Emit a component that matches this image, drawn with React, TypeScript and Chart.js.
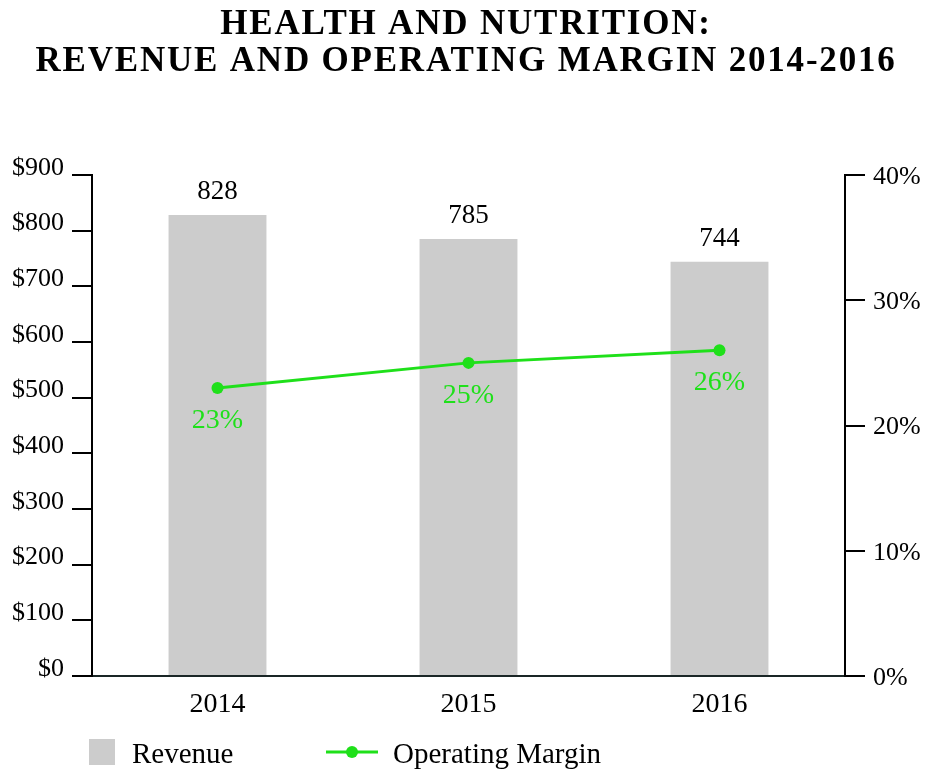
import React, { useEffect, useRef } from "react";
import { Chart, registerables } from "chart.js";

Chart.register(...registerables);

const titleLines = ["HEALTH AND NUTRITION:", "REVENUE AND OPERATING MARGIN 2014-2016"];
const years = ["2014", "2015", "2016"];
const revenue = [828, 785, 744];
const margin = [23, 25, 26];
const revenueTicks = [0, 100, 200, 300, 400, 500, 600, 700, 800, 900];
const marginTicks = [0, 10, 20, 30, 40];
const legendLabels = ["Revenue", "Operating Margin"];

const FONT = "'Liberation Serif', 'DejaVu Serif', serif";
const GREEN = "#1fe01a";
const GREY = "#cccccc";

const overlay = {
  id: "overlay",
  afterDraw(chart: any) {
    const ctx = chart.ctx;
    ctx.save();
    // title
    ctx.fillStyle = "#000";
    ctx.textAlign = "center";
    ctx.textBaseline = "alphabetic";
    ctx.font = `bold 35px ${FONT}`;
    (ctx as any).letterSpacing = "1.8px";
    ctx.fillText(titleLines[0], 466, 34);
    ctx.fillText(titleLines[1], 466, 71);
    (ctx as any).letterSpacing = "0px";

    // bar labels
    const barMeta = chart.getDatasetMeta(0);
    ctx.font = `27px ${FONT}`;
    barMeta.data.forEach((el: any, i: number) => {
      ctx.fillStyle = "#000";
      ctx.fillText(String(revenue[i]), el.x, el.y - 16);
    });
    // line labels
    const lineMeta = chart.getDatasetMeta(1);
    ctx.font = `28px ${FONT}`;
    lineMeta.data.forEach((el: any, i: number) => {
      ctx.fillStyle = GREEN;
      ctx.fillText(margin[i] + "%", el.x, el.y + 40);
    });

    // legend
    const ly = 752;
    ctx.fillStyle = GREY;
    ctx.fillRect(89, ly - 13, 26, 26);
    ctx.fillStyle = "#000";
    ctx.textAlign = "left";
    ctx.font = `29px ${FONT}`;
    ctx.fillText(legendLabels[0], 132, 763);
    ctx.strokeStyle = GREEN;
    ctx.lineWidth = 3;
    ctx.beginPath();
    ctx.moveTo(326, ly);
    ctx.lineTo(378, ly);
    ctx.stroke();
    ctx.fillStyle = GREEN;
    ctx.beginPath();
    ctx.arc(352, ly, 6, 0, Math.PI * 2);
    ctx.fill();
    ctx.fillStyle = "#000";
    ctx.fillText(legendLabels[1], 393, 763);
    ctx.restore();
  },
};

export default function App() {
  const ref = useRef<HTMLCanvasElement>(null);
  useEffect(() => {
    document.body.style.margin = "0";
    const chart = new Chart(ref.current!, {
      type: "bar",
      data: {
        labels: years,
        datasets: [
          {
            type: "bar",
            label: legendLabels[0],
            data: revenue,
            backgroundColor: GREY,
            yAxisID: "y",
            categoryPercentage: 1,
            barPercentage: 0.39,
            order: 2,
          },
          {
            type: "line",
            label: legendLabels[1],
            data: margin,
            borderColor: GREEN,
            backgroundColor: GREEN,
            borderWidth: 3,
            pointRadius: 6,
            pointBackgroundColor: GREEN,
            pointBorderWidth: 0,
            yAxisID: "y1",
            order: 1,
          } as any,
        ],
      },
      options: {
        responsive: false,
        animation: false,
        layout: { padding: { top: 175, left: 0, right: 0, bottom: 0 } },
        plugins: { legend: { display: false }, title: { display: false }, tooltip: { enabled: false } },
        scales: {
          x: {
            grid: { display: false, drawTicks: false },
            border: { display: true, color: "#1a2626", width: 2 },
            ticks: { color: "#000", font: { family: FONT, size: 28 }, padding: 12 },
            afterFit(scale: any) {
              scale.height = 95;
            },
          },
          y: {
            position: "left",
            min: 0,
            max: 900,
            afterBuildTicks(scale: any) {
              scale.ticks = revenueTicks.map((v) => ({ value: v }));
            },
            grid: { drawOnChartArea: false, drawTicks: true, tickLength: 20, color: "#000", lineWidth: 2 },
            border: { display: true, color: "#000", width: 2 },
            ticks: {
              color: "#000",
              font: { family: FONT, size: 26 },
              padding: 8,
              labelOffset: -7,
              callback: (v: any) => "$" + v,
            },
            afterFit(scale: any) {
              scale.width = 92;
            },
          },
          y1: {
            position: "right",
            min: 0,
            max: 40,
            afterBuildTicks(scale: any) {
              scale.ticks = marginTicks.map((v) => ({ value: v }));
            },
            grid: { drawOnChartArea: false, drawTicks: true, tickLength: 20, color: "#000", lineWidth: 2 },
            border: { display: true, color: "#000", width: 2 },
            ticks: {
              color: "#000",
              font: { family: FONT, size: 26 },
              padding: 8,
              labelOffset: 2,
              callback: (v: any) => v + "%",
            },
            afterFit(scale: any) {
              scale.width = 83;
            },
          },
        },
      },
      plugins: [overlay],
    });
    return () => chart.destroy();
  }, []);
  return (
    <div style={{ position: "fixed", left: 0, top: 0, width: 928, height: 771 }}>
      <canvas ref={ref} width={928} height={771} style={{ width: 928, height: 771, display: "block" }} />
    </div>
  );
}
